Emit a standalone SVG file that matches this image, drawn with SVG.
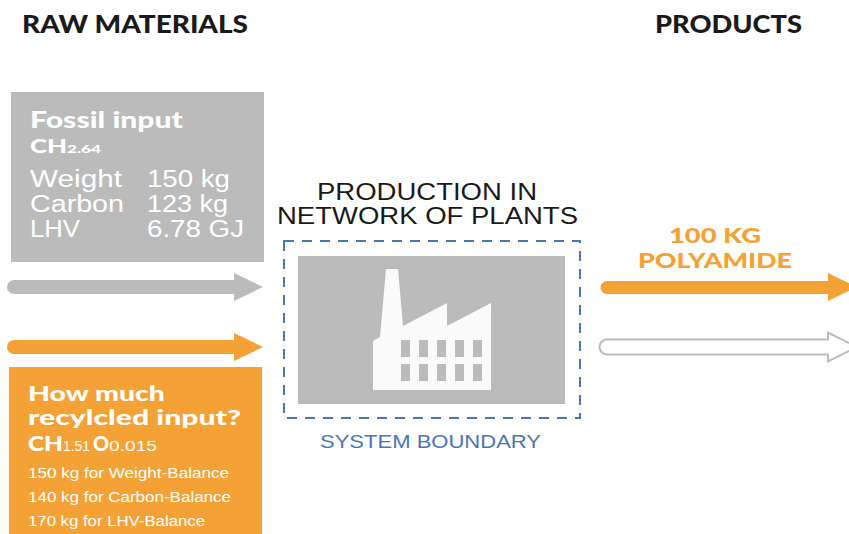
<svg xmlns="http://www.w3.org/2000/svg" width="849" height="534" viewBox="0 0 849 534">
<style>
.hv{font-family:Lato,"Liberation Sans",Arial,sans-serif;font-weight:900}
.rg{font-family:"Liberation Sans",Arial,sans-serif;font-weight:normal}
.blk{fill:#1a1a1a}
.wht{fill:#ffffff}
.org{fill:#f4a236}
.blu{fill:#4a76b3}
</style>
<rect width="849" height="534" fill="#ffffff"/>
<g id="headers">
<text class="hv blk" x="22" y="33" font-size="24" textLength="226" lengthAdjust="spacingAndGlyphs">RAW MATERIALS</text>
<text class="hv blk" x="655" y="33" font-size="24" textLength="147" lengthAdjust="spacingAndGlyphs">PRODUCTS</text>
</g>
<g id="fossil-input">
<rect x="11" y="92" width="253" height="170" fill="#bbbbbb"/>
<text class="hv wht" x="30" y="128" font-size="22" textLength="153" lengthAdjust="spacingAndGlyphs">Fossil input</text>
<text class="hv wht" x="30" y="153" font-size="18" textLength="37" lengthAdjust="spacingAndGlyphs">CH</text>
<text class="hv wht" x="67" y="153" font-size="12" textLength="34" lengthAdjust="spacingAndGlyphs">2.64</text>
<text class="rg wht" x="30" y="187" font-size="23" textLength="92" lengthAdjust="spacingAndGlyphs">Weight</text>
<text class="rg wht" x="147" y="187" font-size="23" textLength="83" lengthAdjust="spacingAndGlyphs">150 kg</text>
<text class="rg wht" x="30" y="212" font-size="23" textLength="94" lengthAdjust="spacingAndGlyphs">Carbon</text>
<text class="rg wht" x="147" y="212" font-size="23" textLength="81" lengthAdjust="spacingAndGlyphs">123 kg</text>
<text class="rg wht" x="30" y="237" font-size="23" textLength="50" lengthAdjust="spacingAndGlyphs">LHV</text>
<text class="rg wht" x="147" y="237" font-size="23" textLength="97" lengthAdjust="spacingAndGlyphs">6.78 GJ</text>
</g>
<g id="recycled-input">
<rect x="9" y="367" width="253" height="167" fill="#f4a236"/>
<text class="hv wht" x="28" y="401" font-size="21" textLength="137" lengthAdjust="spacingAndGlyphs">How much</text>
<text class="hv wht" x="28" y="425" font-size="21" textLength="213" lengthAdjust="spacingAndGlyphs">recylcled input?</text>
<text class="hv wht" x="28" y="451" font-size="20" textLength="35" lengthAdjust="spacingAndGlyphs">CH</text>
<text class="rg wht" x="63" y="451" font-size="14" textLength="27" lengthAdjust="spacingAndGlyphs">1.51</text>
<text class="hv wht" x="93" y="451" font-size="20" textLength="16" lengthAdjust="spacingAndGlyphs">O</text>
<text class="rg wht" x="109" y="451" font-size="14" textLength="48" lengthAdjust="spacingAndGlyphs">0.015</text>
<text class="rg wht" x="28" y="478" font-size="14" textLength="201" lengthAdjust="spacingAndGlyphs">150 kg for Weight-Balance</text>
<text class="rg wht" x="28" y="502" font-size="14" textLength="203" lengthAdjust="spacingAndGlyphs">140 kg for Carbon-Balance</text>
<text class="rg wht" x="28" y="526" font-size="14" textLength="177" lengthAdjust="spacingAndGlyphs">170 kg for LHV-Balance</text>
</g>
<g id="production">
<text class="rg blk" x="317" y="200" font-size="23" textLength="220" lengthAdjust="spacingAndGlyphs">PRODUCTION IN</text>
<text class="rg blk" x="277" y="224" font-size="23" textLength="301" lengthAdjust="spacingAndGlyphs">NETWORK OF PLANTS</text>
<rect x="298" y="256" width="267" height="148" fill="#bbbbbb"/>
<path d="M386,269 L398,269 L403,326 L447,303 L447,326 L491,303 L491,390 L373,390 L373,341 L380,337 Z" fill="#fafafa"/>
<g fill="#bbbbbb">
<rect x="401" y="340" width="9" height="17"/><rect x="419" y="340" width="9" height="17"/><rect x="437" y="340" width="9" height="17"/><rect x="455" y="340" width="9" height="17"/><rect x="473" y="340" width="9" height="17"/>
<rect x="401" y="364" width="9" height="17"/><rect x="419" y="364" width="9" height="17"/><rect x="437" y="364" width="9" height="17"/><rect x="455" y="364" width="9" height="17"/><rect x="473" y="364" width="9" height="17"/>
</g>
</g>
<g id="system-boundary">
<rect x="284" y="241" width="296" height="177" fill="none" stroke="#4a76b3" stroke-width="2" stroke-dasharray="10,8"/>
<text class="rg blu" x="320" y="448" font-size="18" textLength="221" lengthAdjust="spacingAndGlyphs">SYSTEM BOUNDARY</text>
</g>
<g id="product">
<text class="hv org" x="669" y="243" font-size="21" textLength="92" lengthAdjust="spacingAndGlyphs">100 KG</text>
<text class="hv org" x="638" y="268" font-size="21" textLength="154" lengthAdjust="spacingAndGlyphs">POLYAMIDE</text>
</g>
<g id="connectors">
<path d="M14,280 H234 V273 L263,287 L234,301 V294 H14 A7,7 0 0 1 14,280 Z" fill="#bbbbbb"/>
<path d="M14,340 H234 V333 L263,347 L234,361 V354 H14 A7,7 0 0 1 14,340 Z" fill="#f4a236"/>
<path d="M607,281 H828 V273 L857,287 L828,301 V294 H607 A6.5,6.5 0 0 1 607,281 Z" fill="#f4a236"/>
<path d="M607,339.5 H828 V332.5 L857,347 L828,361.5 V354.5 H607 A7.5,7.5 0 0 1 607,339.5 Z" fill="#ffffff" stroke="#bbbbbb" stroke-width="2"/>
</g>
</svg>
